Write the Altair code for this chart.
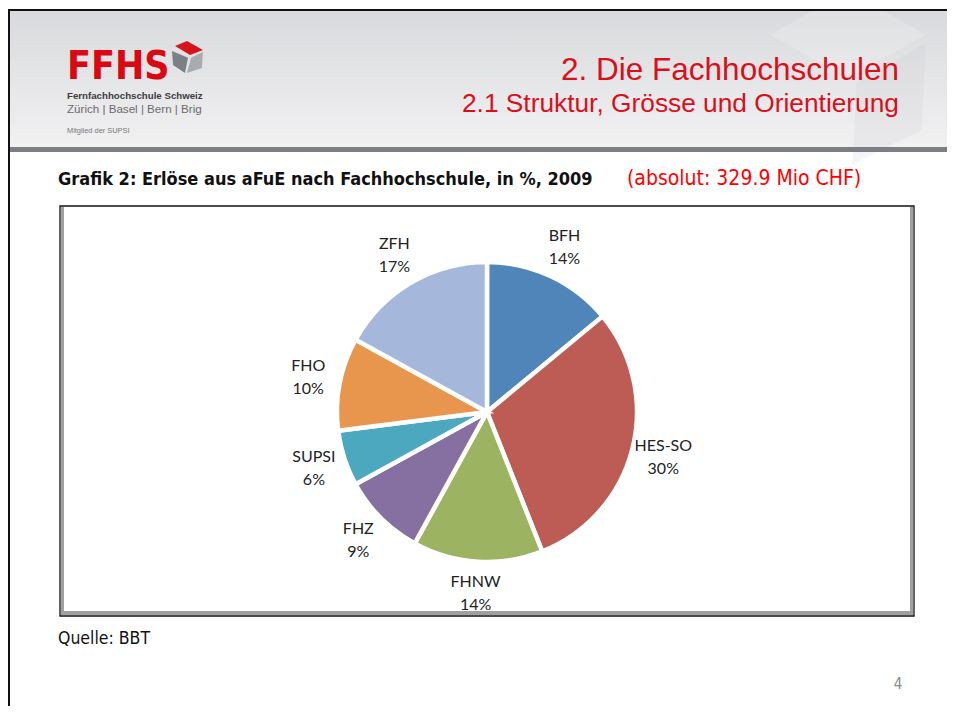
import altair as alt
import pandas as pd

# ---- data ----
schools = ["BFH", "HES-SO", "FHNW", "FHZ", "SUPSI", "FHO", "ZFH"]
shares = [14, 30, 14, 9, 6, 10, 17]
colors = ["#5085BA", "#BD5C55", "#9CB461", "#8670A1", "#4CA8BF", "#E8964D", "#A5B8DC"]

df = pd.DataFrame({
    "school": schools,
    "share": shares,
    "order": list(range(len(schools))),
})
df["label"] = [f"{s}\n{v}%" for s, v in zip(schools, shares)]

W, H = 939, 698
CX, CY = 479, 404
one = alt.Data(values=[{"a": 1}])


def rect(x, x2, y, y2, **kw):
    return alt.Chart(one).mark_rect(**kw).encode(
        x=alt.value(x), x2=alt.value(x2), y=alt.value(y), y2=alt.value(y2)
    )


def text(t, x, y, **kw):
    kw.setdefault("baseline", "alphabetic")
    return alt.Chart(one).mark_text(text=t, **kw).encode(x=alt.value(x), y=alt.value(y))


NARROW = "Liberation Sans Narrow, Arial Narrow, DejaVu Sans Condensed, sans-serif"
SANS = "Liberation Sans, Arial, sans-serif"
RED = "#D9101C"

# ---- slide decoration ----
header_grad = alt.LinearGradient(
    gradient="linear",
    stops=[alt.GradientStop(color="#D9DADD", offset=0),
           alt.GradientStop(color="#F1F1F2", offset=1)],
    x1=0, x2=0, y1=0, y2=1,
)
header = rect(0, W, 3, 139, fill=header_grad)
header_bar = rect(0, W, 139, 144, color="#7A7E85")
top_line = rect(0, W, 1, 3, color="#111111")
left_line = rect(0, 2, 1, H, color="#111111")

# faint watermark cube in header
wm = alt.Chart(one).mark_point(
    shape="M -0.9 -0.5 L 0 -1 L 0.9 -0.5 L 0 0 Z", filled=True, size=30000,
    color="#FFFFFF", opacity=0.18,
).encode(x=alt.value(840), y=alt.value(70))
wm2 = alt.Chart(one).mark_point(
    shape="M 0.1 0.05 L 0.9 -0.4 L 0.85 0.6 L 0.05 1 Z", filled=True, size=30000,
    color="#C8C9CD", opacity=0.18,
).encode(x=alt.value(840), y=alt.value(70))

# logo
ffhs = text("FFHS", 59, 71, font=NARROW, fontSize=39, fontWeight="bold",
            color="#DA0812", align="left")
cube_top = alt.Chart(one).mark_point(
    shape="M -0.76 -0.65 L -0.06 -0.94 L 0.88 -0.41 L 0.12 -0.12 Z",
    filled=True, size=1156, color="#D7131C", opacity=1,
).encode(x=alt.value(180), y=alt.value(49))
cube_left = alt.Chart(one).mark_point(
    shape="M -0.94 -0.35 L 0 0.04 L -0.18 0.94 L -0.88 0.47 Z",
    filled=True, size=1156, color="#7C7F86", opacity=1,
).encode(x=alt.value(180), y=alt.value(49))
cube_right = alt.Chart(one).mark_point(
    shape="M 0.18 0.04 L 0.88 -0.29 L 0.82 0.65 L -0.06 0.94 Z",
    filled=True, size=1156, color="#A9ABB0", opacity=1,
).encode(x=alt.value(180), y=alt.value(49))

logo_t1 = text("Fernfachhochschule Schweiz", 59, 91, font=SANS, fontSize=9.7,
               fontWeight="bold", color="#3C3C3C", align="left")
logo_t2 = text("Zürich | Basel | Bern | Brig", 59, 104.5, font=SANS, fontSize=11.6,
               color="#6A6A6A", align="left")
logo_t3 = text("Mitglied der SUPSI", 59, 125, font=SANS, fontSize=7.4,
               color="#777777", align="left")

title1 = text("2. Die Fachhochschulen", 891, 72, font=SANS, fontSize=31.5,
              color=RED, align="right")
title2 = text("2.1 Struktur, Grösse und Orientierung", 891, 104, font=SANS,
              fontSize=26.3, color=RED, align="right")

grafik = text("Grafik 2: Erlöse aus aFuE nach Fachhochschule, in %, 2009", 50, 177,
              font=NARROW, fontSize=18, fontWeight="bold", color="#111111", align="left")
absolut = text("(absolut: 329.9 Mio CHF)", 619, 177, font=NARROW, fontSize=21,
               color="#FF0000", align="left")
quelle = text("Quelle: BBT", 50, 636, font=NARROW, fontSize=17.5, color="#111111", align="left")
pagenum = text("4", 890, 681, font=NARROW, fontSize=15, color="#8A8A8A", align="center")

# chart frame
frame_fill = rect(52, 906, 198, 608, fill="#FFFFFF")
frame_gray_l = rect(53, 56, 199, 607, color="#A0A0A0")
frame_gray_r = rect(902, 905, 199, 607, color="#A0A0A0")
frame_gray_b = rect(53, 905, 603, 607, color="#A0A0A0")
frame_outline = rect(52, 906, 198, 608, fill="transparent", stroke="#111111", strokeWidth=1.3)

# ---- pie ----
base = alt.Chart(df).encode(
    theta=alt.Theta("share:Q", stack=True),
    order=alt.Order("order:Q"),
)
pie = base.mark_arc(outerRadius=150, stroke="#FFFFFF", strokeWidth=4.5).encode(
    color=alt.Color("school:N", scale=alt.Scale(domain=schools, range=colors), legend=None),
    x=alt.value(CX), y=alt.value(CY),
)
labels = base.mark_text(radius=182, font="Lato, Open Sans, sans-serif", fontSize=16,
                        color="#222222", lineBreak="\n", lineHeight=23, dy=-11.5,
                        align="center", baseline="middle").encode(
    text="label:N", x=alt.value(CX), y=alt.value(CY),
)

chart = alt.layer(
    header, wm, wm2, header_bar, top_line, left_line,
    ffhs, cube_top, cube_left, cube_right, logo_t1, logo_t2, logo_t3,
    title1, title2, grafik, absolut, quelle, pagenum,
    frame_fill, frame_gray_l, frame_gray_r, frame_gray_b, frame_outline,
    pie, labels,
).properties(
    width=W, height=H, padding=0,
    autosize=alt.AutoSizeParams(type="none"),
    background="#FFFFFF",
).configure_view(stroke=None)

chart.save("out.html", embed_options={"renderer": "svg", "actions": False})
